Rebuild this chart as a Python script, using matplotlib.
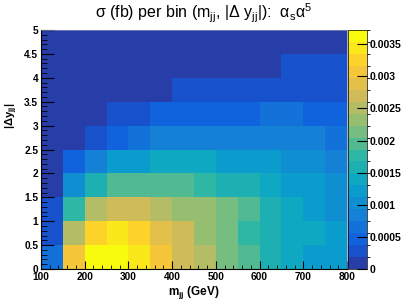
import numpy as np
import matplotlib
matplotlib.use("Agg")
import matplotlib.pyplot as plt
from matplotlib.colors import ListedColormap, BoundaryNorm, LinearSegmentedColormap
from matplotlib.ticker import MultipleLocator, FormatStrFormatter

plt.rcParams['font.family'] = ['Liberation Sans', 'DejaVu Sans']
plt.rcParams['mathtext.default'] = 'regular'

# bin edges
mjj_edges = [100, 150, 200, 250, 300, 350, 400, 450, 500, 550, 600, 650, 700, 750, 800]
dy_edges = [0, 0.5, 1.0, 1.5, 2.0, 2.5, 3.0, 3.5, 4.0, 4.5, 5.0]

# sigma (fb) per bin, in units of 1e-4 fb; rows = |dy| bins (bottom -> top), cols = mjj bins
row_00 = [6.6, 30.9, 37.2, 36.4, 34.6, 30.4, 27.1, 25.0, 21.6, 19.4, 15.9, 14.1, 12.3, 11.9]
row_05 = [2.9, 25.2, 32.8, 34.9, 33.1, 29.0, 26.8, 23.4, 21.2, 17.9, 15.7, 14.2, 13.5, 12.0]
row_10 = [2.7, 17.8, 25.3, 27.3, 26.9, 25.0, 23.1, 22.6, 21.0, 19.3, 15.8, 13.9, 12.2, 10.4]
row_15 = [1.4, 10.3, 15.9, 19.6, 20.1, 19.8, 19.2, 17.6, 16.0, 15.5, 14.0, 12.4, 11.5, 10.1]
row_20 = [0.9, 4.8, 8.5, 12.3, 12.8, 13.6, 13.9, 13.5, 12.4, 12.6, 12.0, 10.5, 10.0, 8.6]
row_25 = [0.5, 1.2, 3.0, 4.9, 6.7, 8.2, 8.6, 8.3, 8.0, 8.4, 8.8, 8.1, 7.9, 6.9]
row_30 = [0.3, 0.7, 1.5, 3.2, 3.5, 4.6, 4.9, 4.8, 5.0, 5.3, 5.9, 5.8, 5.1, 4.9]
row_35 = [0.2, 0.4, 0.9, 1.3, 1.6, 1.8, 2.4, 2.6, 2.9, 3.1, 3.3, 3.4, 3.3, 3.1]
row_40 = [0.1, 0.2, 0.5, 0.7, 0.9, 1.0, 1.2, 1.4, 1.5, 1.6, 1.8, 2.0, 2.1, 2.2]
row_45 = [0.05, 0.1, 0.2, 0.3, 0.4, 0.5, 0.6, 0.7, 0.8, 0.9, 1.0, 1.1, 1.2, 1.3]

sigma = np.array([row_00, row_05, row_10, row_15, row_20,
                  row_25, row_30, row_35, row_40, row_45]) * 1e-4

cbar_ticks = [0, 0.0005, 0.001, 0.0015, 0.002, 0.0025, 0.003, 0.0035]

# ROOT kBird palette, 20 contour levels
stops = [0.0, 0.125, 0.25, 0.375, 0.5, 0.625, 0.75, 0.875, 1.0]
red = [0.2082, 0.0592, 0.0780, 0.0232, 0.1802, 0.5301, 0.8186, 0.9956, 0.9764]
green = [0.1664, 0.3599, 0.5041, 0.6419, 0.7178, 0.7492, 0.7328, 0.7862, 0.9832]
blue = [0.5293, 0.8684, 0.8385, 0.7914, 0.6425, 0.4662, 0.3499, 0.1968, 0.0539]
bird = LinearSegmentedColormap.from_list(
    "bird", list(zip(stops, zip(red, green, blue))))
nlev = 20
cmap = ListedColormap([bird((k + 0.99) / nlev) for k in range(nlev)])
levels = np.linspace(0, sigma.max(), nlev + 1)
norm = BoundaryNorm(levels, nlev, clip=True)

fig = plt.figure(figsize=(4.07, 3.02), dpi=100)
ax = fig.add_axes([41 / 407, 1 - 269 / 302, 306 / 407, 239 / 302])
cax = fig.add_axes([348 / 407, 1 - 269 / 302, 19 / 407, 239 / 302])

mesh = ax.pcolormesh(mjj_edges, dy_edges, sigma, cmap=cmap, norm=norm)
ax.set_xlim(100, 800)
ax.set_ylim(0, 5)

ax.xaxis.set_major_locator(MultipleLocator(100))
ax.xaxis.set_minor_locator(MultipleLocator(20))
ax.yaxis.set_major_locator(MultipleLocator(0.5))
ax.yaxis.set_minor_locator(MultipleLocator(0.1))
ax.yaxis.set_major_formatter(FormatStrFormatter('%g'))
ax.tick_params(which='both', direction='in', top=False, right=False,
               labelsize=7.3, pad=2)
ax.tick_params(axis='x', which='major', length=6)
ax.tick_params(axis='x', which='minor', length=3)
ax.tick_params(axis='y', which='major', length=9)
ax.tick_params(axis='y', which='minor', length=4.5)
for lab in ax.get_xticklabels() + ax.get_yticklabels():
    lab.set_fontweight('bold')
for s in ['top', 'right']:
    ax.spines[s].set_linewidth(0.5)
    ax.spines[s].set_color('#8890b0')

cb = fig.colorbar(mesh, cax=cax, spacing='proportional')
cb.set_ticks(cbar_ticks)
cb.ax.yaxis.set_major_formatter(FormatStrFormatter('%g'))
cb.ax.tick_params(direction='in', length=7, labelsize=7.5, pad=2, width=0.8)
cb.outline.set_linewidth(0.5)
for lab in cb.ax.get_yticklabels():
    lab.set_fontweight('bold')

fig.text(0.5, 1 - 13 / 302, r"σ (fb) per bin (m$_{jj}$, |Δ y$_{jj}$|):  α$_{s}$α$^{5}$",
         ha='center', va='center', fontsize=11.5)
fig.text(194 / 407, 1 - 292 / 302, r"m$_{jj}$ (GeV)", ha='center', va='center',
         fontsize=8.5, fontweight='bold')
fig.text(12 / 407, 1 - 116 / 302, r"|Δy$_{jj}$|", ha='center', va='center',
         rotation=90, fontsize=8, fontweight='bold')

fig.savefig("out.png", dpi=100)
